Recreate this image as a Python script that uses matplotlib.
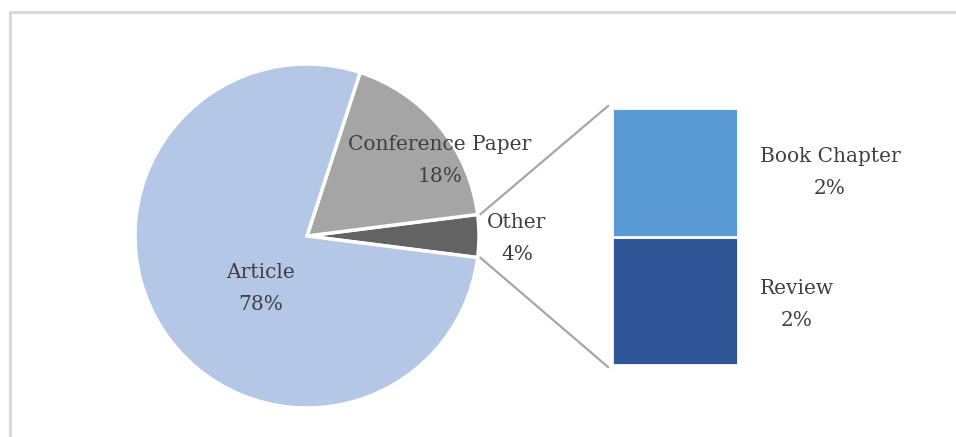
import matplotlib
matplotlib.use("Agg")
import matplotlib.pyplot as plt
import numpy as np

# main pie
pie_labels = ["Other", "Conference Paper", "Article"]
pie_values = [4, 18, 78]
pie_colors = ["#636363", "#A5A5A5", "#B4C7E7"]

# breakdown of "Other"
bar_labels = ["Review", "Book Chapter"]
bar_values = [2, 2]
bar_colors = ["#2F5597", "#5B9BD5"]

TXT = "#404040"
W, H = 956, 437
plt.rcParams["font.family"] = ["DejaVu Serif"]

fig = plt.figure(figsize=(W / 100, H / 100), dpi=100)
ax = fig.add_axes([0, 0, 1, 1])

# chart frame (only top/left visible)
ax.plot([10, 10, W + 5], [-5, H - 12, H - 12], color="#D9D9D9", lw=2.2)

cx, cy, r = 307, H - 236, 172
half = 360 * pie_values[0] / sum(pie_values) / 2
ax.pie(pie_values, colors=pie_colors, startangle=-half, counterclock=True,
       center=(cx, cy), radius=r, frame=True,
       wedgeprops=dict(edgecolor="white", linewidth=2.5))
ax.set_xlim(0, W)
ax.set_ylim(0, H)
ax.set_aspect("auto")
ax.axis("off")

# bar of pie
bx0, bx1, by0, by1 = 612, 738, H - 365, H - 108
bax = fig.add_axes([bx0 / W, by0 / H, (bx1 - bx0) / W, (by1 - by0) / H])
bottom = 0
for v, c in zip(bar_values, bar_colors):
    bax.bar(0, v, width=1, bottom=bottom, color=c, edgecolor="white", linewidth=2)
    bottom += v
bax.set_xlim(-0.5, 0.5)
bax.set_ylim(0, sum(bar_values))
bax.axis("off")

# connector lines
for sgn, by in [(1, by1), (-1, by0)]:
    a = np.deg2rad(sgn * half)
    ax.plot([cx + (r + 3) * np.cos(a), bx0 - 4], [cy + (r + 3) * np.sin(a), by + (2 if sgn > 0 else -2)],
            color="#A6A6A6", lw=1.6)

fs = 14.5
def lab(x, y, s1, s2):
    ax.text(x, H - y, s1, ha="center", va="center", fontsize=fs, color=TXT)
    ax.text(x, H - y - 32, s2, ha="center", va="center", fontsize=fs, color=TXT)

lab(440, 145, "Conference Paper", f"{pie_values[1]}%")
lab(517, 222, "Other", f"{pie_values[0]}%")
lab(261, 273, "Article", f"{pie_values[2]}%")
lab(830, 157, "Book Chapter", f"{bar_values[1]}%")
lab(797, 288, "Review", f"{bar_values[0]}%")

fig.savefig("out.png", dpi=100)
